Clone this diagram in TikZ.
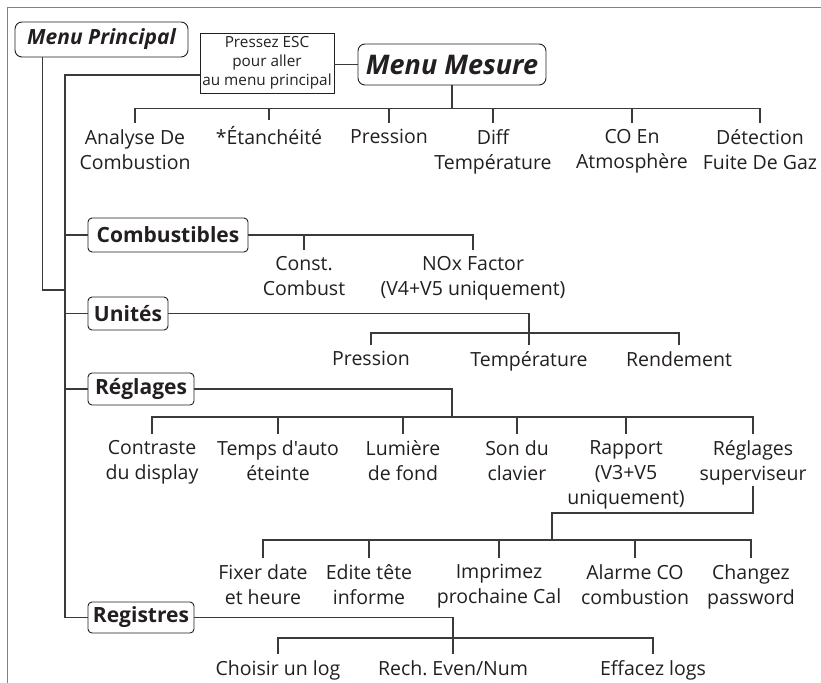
\documentclass[tikz,border=0pt]{standalone}
\usepackage{fontspec}
\setmainfont{Open Sans}
\newfontfamily\plainsans{Open Sans}
\usetikzlibrary{positioning,calc}
\definecolor{ink}{HTML}{231F20}
\definecolor{wire}{HTML}{3A3A3A}
\definecolor{rim}{HTML}{808080}

\begin{document}
\begin{tikzpicture}[x=1pt,y=-1pt,
  wire/.style={draw=wire,line width=1.1pt},
  menubox/.style={draw=ink,line width=0.9pt,rounded corners=7pt,inner sep=0pt,text=ink},
  sectbox/.style={draw=ink,line width=0.9pt,rounded corners=4pt,inner sep=0pt,text=ink,
    font=\fontsize{21}{24}\selectfont\bfseries},
  item/.style={align=center,inner xsep=0pt,inner ysep=6pt,anchor=north,text=ink,
    font=\plainsans\fontsize{19.5}{25}\selectfont},
  ]
\useasboundingbox (0,0) rectangle (821,682);
\draw[rim,line width=1.6pt] (7.5,700) -- (7.5,7.5) -- (830,7.5);
% top menus
\node[menubox,minimum width=173pt,minimum height=35pt,font=\fontsize{21}{24}\selectfont\bfseries\itshape]
  (principal) at (101.5,39.5) {Menu Principal};
\node[draw=ink,line width=0.9pt,inner sep=0pt,minimum width=134pt,minimum height=60pt,align=center,
  text=ink,font=\fontsize{15.3}{19}\selectfont] (esc) at (267,63) {Pressez ESC\\pour aller\\au menu principal};
\node[menubox,minimum width=188pt,minimum height=41pt,font=\fontsize{27}{30}\selectfont\bfseries\itshape]
  (mesure) at (452,64.5) {Menu Mesure};
% Menu Mesure items
\node[item] (analyse) at (135,123) {Analyse De\\Combustion};
\node[item] (etanch) at (269,120) {*Étanchéité};
\node[item] (pression) at (389,123) {Pression};
\node[item] (diff) at (493,123) {Diff\\Température};
\node[item] (coatm) at (632,123) {CO En\\Atmosphère};
\node[item] (detect) at (760,123) {Détection\\Fuite De Gaz};
% sections
\node[sectbox,minimum width=160pt,minimum height=34pt] (combust) at (168,235) {Combustibles};
\node[sectbox,minimum width=80pt,minimum height=33pt] (unites) at (128,313.5) {Unités};
\node[sectbox,minimum width=106pt,minimum height=32pt] (reglages) at (141,389) {Réglages};
\node[sectbox,minimum width=106pt,minimum height=31pt] (registres) at (141,617.5) {Registres};
% Combustibles items
\node[item] (const) at (304,250) {Const.\\Combust};
\node[item] (nox) at (473,250) {NOx Factor\\(V4+V5 uniquement)};
% Unites items
\node[item] (punit) at (371,345) {Pression};
\node[item] (tunit) at (529,345) {Température};
\node[item] (runit) at (679,345) {Rendement};
% Reglages items
\node[item] (contraste) at (152,434) {Contraste\\du display};
\node[item] (temps) at (278,434) {Temps d'auto\\éteinte};
\node[item] (lumiere) at (403,434) {Lumière\\de fond};
\node[item] (son) at (517,434) {Son du\\clavier};
\node[item] (rapport) at (626,434) {Rapport\\(V3+V5\\uniquement)};
\node[item] (superv) at (753,434) {Réglages\\superviseur};
% superviseur items
\node[item] (fixer) at (263,558) {Fixer date\\et heure};
\node[item] (edite) at (369,558) {Edite tête\\informe};
\node[item] (imprimez) at (499,558) {Imprimez\\prochaine Cal};
\node[item] (alarme) at (635,558) {Alarme CO\\combustion};
\node[item] (changez) at (751,558) {Changez\\password};
% Registres items
\node[item] (choisir) at (278,654) {Choisir un log};
\node[item] (rech) at (453,654) {Rech.\ Even/Num};
\node[item] (effacez) at (653,654) {Effacez logs};
% connectors
\coordinate (spine) at (65,0);
\coordinate (pjoin) at (65,290);
\coordinate (ubus) at (529,333);
\coordinate (rbus) at (452,417);
\coordinate (sbend) at (552,513);
\coordinate (sbus) at (552,540);
\coordinate (gbus) at (453,638);
\draw[wire] (esc.east |- mesure.west) -- (mesure.west);
\draw[wire] ([yshift=-12pt]esc.west) -| (registres.west -| spine) -- (registres.west);
\draw[wire] ([xshift=28pt]principal.south west) |- (pjoin);
\foreach \s in {combust,unites,reglages}
  \draw[wire] (\s.west) -- (\s.west -| spine);
\foreach \c in {analyse,etanch,pression,diff,coatm,detect}
  \draw[wire] (mesure.south) -- ++(0,23) -| (\c.north);
\foreach \c in {const,nox}
  \draw[wire] (combust.east) -| (\c.north);
\draw[wire] (unites.east) -| (ubus);
\foreach \c in {punit,tunit,runit}
  \draw[wire] (ubus) -| (\c.north);
\draw[wire] (reglages.east) -| (rbus);
\foreach \c in {contraste,temps,lumiere,son,rapport,superv}
  \draw[wire] (rbus) -| (\c.north);
\draw[wire] ([yshift=5pt]superv.south) |- (sbend) -- (sbus);
\foreach \c in {fixer,edite,imprimez,alarme,changez}
  \draw[wire] (sbus) -| (\c.north);
\draw[wire] (registres.east) -| (rech.north);
\foreach \c in {choisir,effacez}
  \draw[wire] (gbus) -| (\c.north);
\end{tikzpicture}
\end{document}
